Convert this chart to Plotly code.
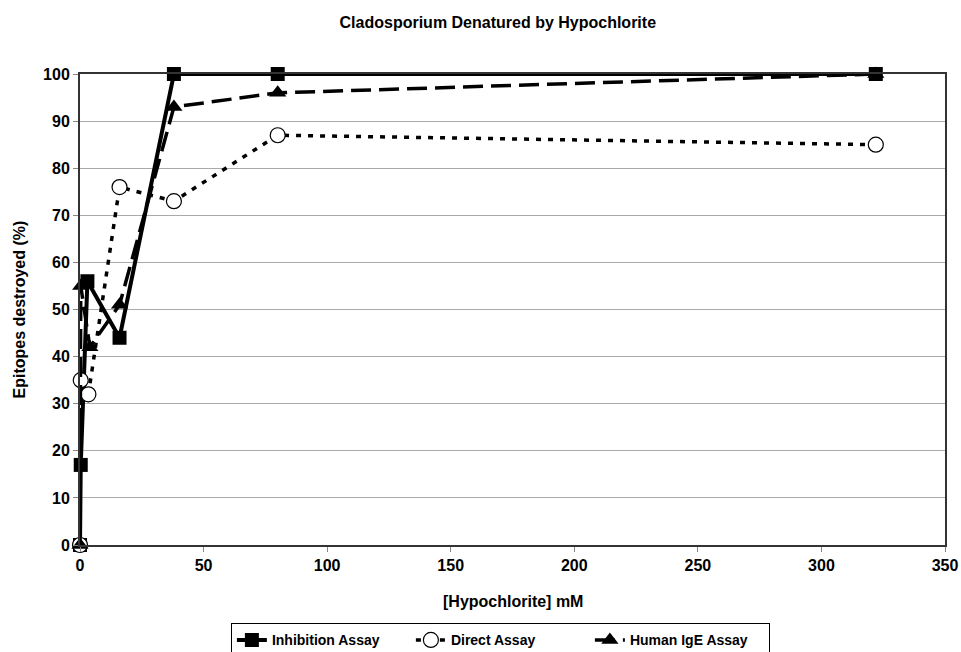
import plotly.graph_objects as go

# Data
inh_x = [0, 0.3, 3.0, 16, 38, 80, 322]
inh_y = [0, 17, 56, 44, 100, 100, 100]

dir_x = [0, 0.3, 3.4, 16, 38, 80, 322]
dir_y = [0, 35, 32, 76, 73, 87, 85]

ige_x = [0, 0.3, 4.0, 16, 38, 80, 322]
ige_y = [0, 55, 42, 51, 93, 96, 100]

x_ticks = [0, 50, 100, 150, 200, 250, 300, 350]
y_ticks = [0, 10, 20, 30, 40, 50, 60, 70, 80, 90, 100]

FONT = "Liberation Sans, Arial, sans-serif"

fig = go.Figure()
fig.add_trace(go.Scatter(
    x=inh_x, y=inh_y, name="<b>Inhibition Assay</b>", mode="lines+markers",
    line=dict(color="black", width=4), cliponaxis=False,
    marker=dict(symbol="square", size=14, color="black"),
))
fig.add_trace(go.Scatter(
    x=dir_x, y=dir_y, name="<b>Direct Assay</b>", mode="lines+markers",
    line=dict(color="black", width=3.5, dash="5px,7px"), cliponaxis=False,
    marker=dict(symbol="circle", size=15, color="white", line=dict(color="black", width=1.2)),
))
fig.add_trace(go.Scatter(
    x=ige_x, y=ige_y, name="<b>Human IgE Assay</b>", mode="lines+markers",
    line=dict(color="black", width=3.5, dash="20px,8px"), cliponaxis=False,
    marker=dict(symbol="triangle-up", size=15, color="black"),
))

fig.update_layout(
    width=961, height=652,
    margin=dict(l=80, r=16, t=74, b=107),
    paper_bgcolor="white", plot_bgcolor="white",
    font=dict(family=FONT, color="black", size=16),
    title=dict(text="<b>Cladosporium Denatured by Hypochlorite</b>",
               x=0.518, xanchor="center", y=0.966, yanchor="middle",
               font=dict(size=16, family=FONT)),
    showlegend=True,
    legend=dict(orientation="h", xref="paper", x=0.486, xanchor="center",
                yref="container", y=0.044, yanchor="top",
                bordercolor="black", borderwidth=1, font=dict(size=14, family=FONT),
                entrywidth=134, entrywidthmode="pixels", tracegroupgap=0),
    xaxis=dict(range=[0, 350], tickvals=x_ticks, ticktext=[f"<b>{v}</b>" for v in x_ticks],
               showgrid=False, zeroline=False, showline=True, linecolor="#333", linewidth=2,
               mirror=True, ticks="outside", ticklen=5, tickcolor="#888",
               automargin=False, tickfont=dict(size=16)),
    yaxis=dict(range=[0, 100], tickvals=y_ticks, ticktext=[f"<b>{v}</b>" for v in y_ticks],
               showgrid=True, gridcolor="#aaaaaa", gridwidth=1, zeroline=False,
               showline=True, linecolor="#333", linewidth=2, mirror=True,
               ticks="outside", ticklen=5, tickcolor="#888",
               automargin=False, tickfont=dict(size=16)),
    annotations=[
        dict(text="<b>[Hypochlorite] mM</b>", xref="paper", yref="paper",
             x=0.5, y=-0.121, xanchor="center", yanchor="middle", showarrow=False,
             font=dict(size=16, family=FONT)),
        dict(text="<b>Epitopes destroyed (%)</b>", xref="paper", yref="paper",
             x=-0.0694, y=0.5, xanchor="center", yanchor="middle", showarrow=False,
             textangle=-90, font=dict(size=16, family=FONT)),
    ],
)

fig.write_html("out.html", config={"displayModeBar": False},
               post_script="document.body.style.margin='0';document.body.style.overflow='hidden';")
